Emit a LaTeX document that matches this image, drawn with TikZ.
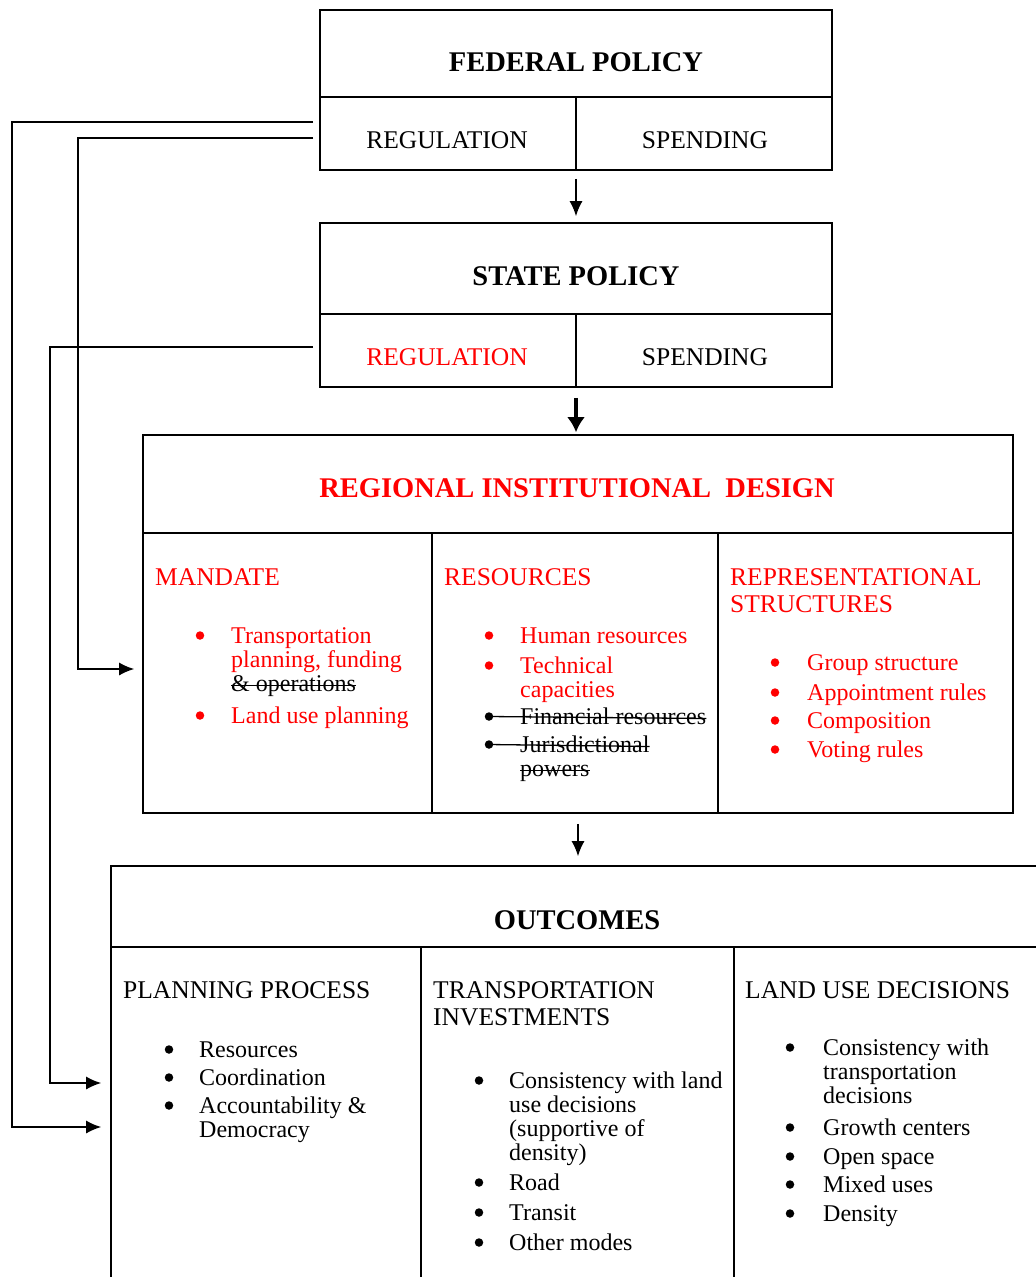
\documentclass[tikz,border=0pt]{standalone}
\usepackage{fontspec}
\setmainfont{Liberation Serif}
\usetikzlibrary{fit,arrows.meta}

\tikzset{
  box/.style={draw, line width=1.6pt, inner sep=0pt},
  rule/.style={line width=1.6pt},
  arr/.style={line width=1.6pt, -{Latex[length=15pt,width=13pt]}},
  bigarr/.style={line width=4pt, -{Latex[length=15pt,width=18pt]}},
  bighead/.style={font=\bfseries\fontsize{28.5}{30}\selectfont, anchor=base, inner sep=0pt},
  subhead/.style={font=\fontsize{25.5}{27}\selectfont, anchor=base west, inner sep=0pt, align=left},
  itemtext/.style={font=\fontsize{24}{24}\selectfont, anchor=base west, inner sep=0pt, align=left},
  bulletmark/.style={circle, fill, inner sep=0pt, minimum size=8.5pt},
  strike/.style={line width=1.3pt},
}

% bullet item: [colour] name, bullet x, text x, first baseline, extra lines, text
% (a multi-line node sits on its last baseline)
\newcommand\bitem[7][]{%
  \node[bulletmark,#1] (#2b) at (#3,#5-7.5) {};
  \node[itemtext,#1] (#2) at (#4,#5+24*#6) {#7};}
% line drawn through a one-line text node
\newcommand\struck[1]{%
  \draw[strike] ([yshift=5.5pt]#1.base west) -- ([yshift=5.5pt]#1.base east);}

\begin{document}
\begin{tikzpicture}[x=1pt,y=-1pt]
  \useasboundingbox (0,0) rectangle (1036,1277);
  \clip (0,0) rectangle (1036,1277);

  % the four blocks
  \node[box, fit={(320,10) (832,170)}] (fed) {};
  \node[box, fit={(320,223) (832,387)}] (state) {};
  \node[box, fit={(143,435) (1013,813)}] (rid) {};
  \node[box, fit={(111,866) (1043,1320)}] (outc) {};

  % cell dividers
  \draw[rule] (fed.west |- 0,97) -- (fed.east |- 0,97) (576,97) -- (576,170);
  \draw[rule] (state.west |- 0,314) -- (state.east |- 0,314) (576,314) -- (576,387);
  \draw[rule] (rid.west |- 0,533) -- (rid.east |- 0,533) (432,533) -- (432,813) (718,533) -- (718,813);
  \draw[rule] (outc.west |- 0,947) -- (outc.east |- 0,947) (421,947) -- (421,1320) (734,947) -- (734,1320);

  % policy levels
  \node[bighead] (fedt) at (576,71) {FEDERAL POLICY};
  \node[subhead, anchor=base] (fedreg) at (447,148) {REGULATION};
  \node[subhead, anchor=base] (fedspend) at (705,148) {SPENDING};
  \node[bighead] (statet) at (576,285) {STATE POLICY};
  \node[subhead, anchor=base, text=red] (statereg) at (447,365) {REGULATION};
  \node[subhead, anchor=base] (statespend) at (705,365) {SPENDING};

  % regional institutional design
  \begin{scope}[red]
    \node[bighead] (ridt) at (577,497) {REGIONAL INSTITUTIONAL ~DESIGN};
    \node[subhead] (mand) at (155,585) {MANDATE};
    \bitem{m1}{200}{231}{643}{1}{Transportation\\planning, funding}
    \node[itemtext, black] (m1x) at (231,691) {\&~operations};
    \bitem{m2}{200}{231}{723}{0}{Land use planning}
    \node[subhead] (res) at (444,585) {RESOURCES};
    \bitem{r1}{489}{520}{643}{0}{Human resources}
    \bitem{r2}{489}{520}{673}{1}{Technical\\capacities}
    \bitem[black]{r3}{489}{520}{724}{0}{Financial resources}
    \bitem[black]{r4}{489}{520}{752}{0}{Jurisdictional}
    \node[itemtext, black] (r4x) at (520,776) {powers};
    \node[subhead] (rep) at (730,612) {REPRESENTATIONAL\\STRUCTURES};
    \bitem{p1}{775}{807}{670}{0}{Group structure}
    \bitem{p2}{775}{807}{700}{0}{Appointment rules}
    \bitem{p3}{775}{807}{728}{0}{Composition}
    \bitem{p4}{775}{807}{757}{0}{Voting rules}
  \end{scope}
  % crossed-out entries
  \struck{m1x}
  \struck{r4x}
  \draw[strike] (r3b.center) -- ([yshift=5.5pt]r3.base east);
  \draw[strike] (r4b.center) -- ([yshift=5.5pt]r4.base east);

  % outcomes
  \node[bighead] (outt) at (577,929) {OUTCOMES};
  \node[subhead] (plan) at (123,998) {PLANNING PROCESS};
  \bitem{o1}{169}{199}{1057}{0}{Resources}
  \bitem{o2}{169}{199}{1085}{0}{Coordination}
  \bitem{o3}{169}{199}{1113}{1}{Accountability \&\\Democracy}
  \node[subhead] (inv) at (433,1025) {TRANSPORTATION\\INVESTMENTS};
  \bitem{t1}{479}{509}{1088}{3}{Consistency with land\\use decisions\\(supportive of\\density)}
  \bitem{t2}{479}{509}{1190}{0}{Road}
  \bitem{t3}{479}{509}{1220}{0}{Transit}
  \bitem{t4}{479}{509}{1250}{0}{Other modes}
  \node[subhead] (land) at (745,998) {LAND USE DECISIONS};
  \bitem{l1}{790}{823}{1055}{2}{Consistency with\\transportation\\decisions}
  \bitem{l2}{790}{823}{1135}{0}{Growth centers}
  \bitem{l3}{790}{823}{1164}{0}{Open space}
  \bitem{l4}{790}{823}{1192}{0}{Mixed uses}
  \bitem{l5}{790}{823}{1221}{0}{Density}

  % downward flow
  \draw[arr, shorten <=8pt, shorten >=6pt] (fed.south) -- (state.north);
  \draw[bigarr, shorten <=10pt, shorten >=2pt] (state.south) -- (state.south |- rid.north);
  \draw[arr, shorten <=10pt, shorten >=9pt] (rid.south) -- (rid.south |- outc.north);

  % regulation feeding down the left side
  \coordinate (fr1) at (313,122);
  \coordinate (fr2) at (313,138);
  \coordinate (sr1) at (313,347);
  \draw[arr] (fr1) -- (12,122) |- ([xshift=-9pt]outc.west |- 0,1127);
  \draw[arr] (fr2) -- (78,138) |- ([xshift=-8pt]rid.west |- 0,669);
  \draw[arr] (sr1) -- (50,347) |- ([xshift=-9pt]outc.west |- 0,1083);
\end{tikzpicture}
\end{document}
